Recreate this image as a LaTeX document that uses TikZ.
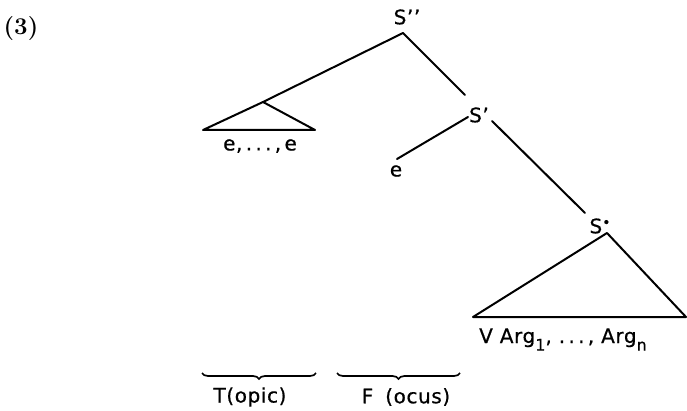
\documentclass[tikz,border=0pt]{standalone}
\usepackage{fontspec}
\newfontfamily\lblfont[LetterSpace=3,FakeBold=0.6]{DejaVu Sans}
\usetikzlibrary{decorations.pathreplacing}
\newcommand{\lsub}[1]{\raisebox{-0.38em}{\fontsize{16}{16}\selectfont #1}}
\begin{document}
\begin{tikzpicture}[x=1pt,y=-1pt,
  edge/.style={line width=2pt, line cap=round, line join=round},
  lbl/.style={font=\lblfont\fontsize{20}{22}\selectfont, inner sep=0pt},
  brc/.style={line width=1.7pt, decorate, decoration={brace, mirror, amplitude=6pt}}]
\useasboundingbox (0,0) rectangle (687,411);
\node[font=\bfseries\fontsize{24}{26}\selectfont, inner sep=0pt] (num) at (21,29) {(3)};
% labels
\node[lbl] (S2) at (407,17) {S’’};
\node[lbl] (S1) at (479,115) {S’};
\node[lbl] (S0) at (600,226) {S\raisebox{0.55ex}{\fontsize{14}{14}\selectfont•}};
\node[lbl] (E) at (396,171) {e};
\node[lbl] (Es) at (260,146) {e,\,.\,.\,.\,,\,e};
\node[lbl, anchor=base west] (Args) at (479,343) {V Arg\lsub{1},\ .\,.\,.\,,\ Arg\lsub{n}};
\node[lbl] (T) at (250,397) {T(opic)};
\node[lbl] (F) at (406,397) {F\hspace{0.25em} (ocus)};
% coordinates
\coordinate (A) at (403,33);
\coordinate (TLa) at (263,102);
\coordinate (TLl) at (203,130);
\coordinate (TLr) at (315,130);
\coordinate (S1t) at (465,95);
\coordinate (S1l) at (468,117);
\coordinate (Ee) at (397,159);
\coordinate (S1r) at (492,121);
\coordinate (S0t) at (585,213);
\coordinate (Ba) at (607,233);
\coordinate (Bl) at (473,317);
\coordinate (Br) at (686,317);
% edges
\draw[edge] (A) -- (TLa);
\draw[edge] (TLl) -- (TLa) -- (TLr) -- cycle;
\draw[edge] (A) -- (S1t);
\draw[edge] (S1l) -- (Ee);
\draw[edge] (S1r) -- (S0t);
\draw[edge] (Bl) -- (Ba) -- (Br) -- cycle;
% braces
\coordinate (b1l) at (202,373);
\coordinate (b1r) at (316,373);
\coordinate (b2l) at (337,373);
\coordinate (b2r) at (460,373);
\draw[brc] (b1l) -- (b1r);
\draw[brc] (b2l) -- (b2r);
\end{tikzpicture}
\end{document}
